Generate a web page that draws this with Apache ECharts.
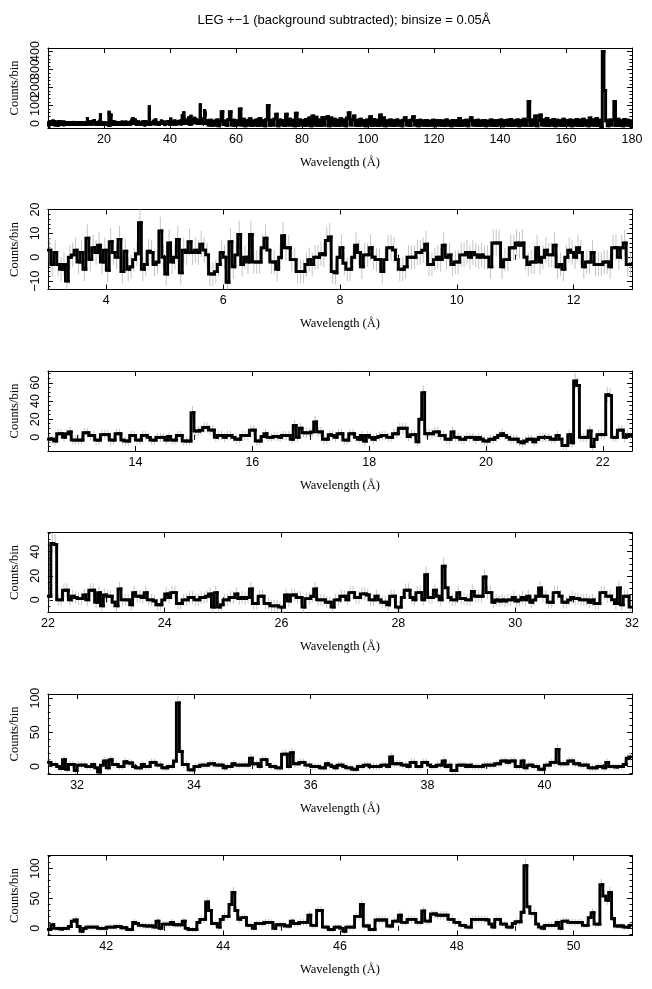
<!DOCTYPE html>
<html><head><meta charset="utf-8">
<script src="https://cdn.jsdelivr.net/npm/echarts@6/dist/echarts.min.js"></script>
<style>html,body{margin:0;padding:0;background:#fff}#c{width:652px;height:989px}</style>
</head><body><div id="c"></div>
<script>
// ---- DATA: counts per 0.05 A bin, bin left edges start at 3.00 A ----
const binSize = 0.05;
const firstBinStart = 3.0;
const counts_3_12p5 = [
3,-3,2,-3,-5,-3,-10,0,1,3,-2,2,-5,8,-1,4,2,5,-2,3,
-5.5,6.5,2,0,7.5,-6,2.5,-5,-4,-1,1.5,14.5,-5,-3,2.5,2,-3,-2,11,0,
-7,6,-2,0,7.5,-6.5,3,2,6.5,2,3,2,5.5,3,1,-7,-7,-6,-3,2,
0,-10.5,6.5,-4,1,9.5,-3,0,-2,9.5,-2,-2,-2,4,8,3,-2,-2,-5,0,
9,4,4,-1,-1,-6,-6,-6,-3,-1,-3,0,0,1.5,1,7,8.5,-6,-6.5,0,
4,-2.5,-5,-5,0,5,2,-4,1,1,4,0,-1,-1,-6,-1,4,4,3,-1,
-5,-5,-4,0,0,0,2,2,3,5.5,-3,-3,-1,0,-1,5,0,1,-3,-2,
-2,1,1,2,0,2,1,0,1,0,0,-4,6,6,6,-4,-1,-1,4,4,
6,5,6,0,-3,-2,-2,4,-2,0,3,1,1,5,-4,-3,-5,0,3,2,
0,4,2,-4,-2,-2,2,-3,-3,-3];
const counts_12p5_22 = [
-2,-2,-4,4,4,0,4,6,-3,-3,-3,-3,5,5,2,2,-3,-3,3,3,
3,-3,-3,4,4,-3,-4,-4,2,2,-3,-3,2,2,0,-3,-3,0,0,0,
-3,1,-3,-3,2,2,-4,-4,-4,27,7,7,8,11,11,8,8,0,2,2,
0,2,2,0,-2,-2,2,2,2,8,8,-4,-4,1,4,0,0,1,1,0,
2,2,2,-2,13,0,10,5,5,5,6,17,6,6,-2,-2,3,2,0,4,
4,-3,-3,4,4,0,-2,2,-4,2,0,-2,0,1,2,2,0,0,4,4,
10,10,10,1,3,3,-5,20,49,4,4,4,6,6,2,2,-2,-2,6,0,
0,-2,-2,0,0,0,-2,0,-2,-4,-4,-2,-2,0,2,4,2,0,-2,-2,
-2,-5,-6,-4,-2,-2,-5,-2,0,0,0,0,-2,-2,2,-2,-9,-9,3,-6,
62,57,0,0,0,7,-10,-2,3,3];
const counts_22_31p5 = [
3,47,46,0,0,8,8,0,3,2,1,1,4,0,8,8,-2,6,-5,4,
3,3,-2,-5,9,0,0,0,-4,6,3,3,2,6,0,0,-1,-4,-4,0,
5,2,6,6,-3,-3,0,0,2,2,0,0,2,2,3,5,-6,6,-6,-4,
0,0,2,2,5,1,2,1,2,9,-3,-3,3,3,-3,-3,-5,-5,-5,-6,
-6,4,-1,4,4,2,2,-6,1,1,3,9,0,0,0,-2,-2,-6,0,0,
3,3,0,6,6,2,2,5,5,4,0,0,3,0,-2,-2,-4,3,3,-6,
-6,2,8,8,2,0,6,6,0,21,2,2,8,3,0,28,10,2,0,0,
6,1,1,0,0,7,3,3,3,19,6,6,-2,0,-1,0,-1,0,0,2,
-1,0,2,0,3,-2,0,3,10,3,3,-2,-2,6,6,3,-2,-2,0,2,
1,1,0,0,0,-2,0,-3,-3,6];
const counts_31p5_41 = [
6,3,3,0,-3,10,-4,3,3,-6,2,2,2,0,0,3,-2,-8,2,8,
-2,10,3,3,0,0,7,5,5,0,-2,-2,3,0,0,6,6,2,2,-2,
-2,0,0,8,93,22,3,3,-5,-5,0,0,2,2,2,4,4,2,2,2,
-2,0,0,4,2,2,2,2,2,12,4,4,0,10,10,3,0,0,-2,-2,
18,18,0,20,4,4,6,6,2,2,0,0,0,-2,-2,4,2,0,-2,2,
2,0,-2,-2,-4,-4,0,0,2,2,0,0,0,0,2,2,0,14,4,4,
4,2,2,0,6,6,0,0,6,6,2,0,0,2,2,8,0,2,-6,-6,
2,2,2,0,2,0,0,0,0,2,2,2,2,4,4,8,8,6,8,8,
0,0,8,-2,2,2,0,0,-4,-4,2,2,6,6,25,4,4,4,8,8,
4,4,2,2,2,-2,-2,-2,0,0];
const counts_41_51 = [
-2,6,0,0,-1,0,0,3,12,14,3,-5,0,2,2,2,2,0,0,0,
2,2,2,3,3,1,1,-2,-2,10,8,5,5,4,4,4,2,12,0,7,
7,7,10,6,6,6,12,0,-2,-2,-2,10,15,15,44,30,8,8,2,15,
20,20,40,60,30,15,18,18,5,5,0,8,8,8,10,10,10,0,6,6,
6,4,4,12,8,8,10,10,10,22,5,5,30,30,2,2,-2,-2,2,2,
0,-5,2,2,2,20,20,40,4,4,-2,-2,14,14,14,14,4,4,12,12,
22,10,10,15,15,15,10,10,29,12,12,24,24,22,22,22,22,15,15,10,
10,5,5,2,2,15,15,15,15,15,14,7,2,15,15,7,7,2,2,8,
11,11,27,105,36,25,25,7,2,0,5,5,5,5,10,0,12,12,10,10,
10,10,10,5,5,18,26,7,7,73,54,47,60,16,4,4,4,2,2,5];
const overviewStep = 0.5;
const overviewStart = 51.0;
const overviewCounts = [
15,-9,18,-10,12,-8,20,-12,16,66,-6,14,-10,22,66,-8,18,-11,15,-7,
81,-9,24,-12,17,-8,26,-10,14,-9,19,-11,28,-8,16,-12,22,100,-10,18,
-9,25,51,-12,20,-7,16,-11,51,-9,23,-8,18,-12,57,-10,20,-9,16,-11,
22,-8,30,-12,42,-9,35,-10,19,-11,33,-8,28,38,-12,30,-9,24,-10,18,
-11,26,-8,20,-12,30,60,-9,22,42,-10,18,-11,24,-8,16,-12,20,-9,38,
-10,22,-8,18,-11,47,-9,30,-12,16,-8,20,-10,15,-11,19,-9,14,-12,18,
32,-8,16,-11,20,38,-9,15,-12,18,-8,14,-10,17,-11,13,-9,18,-12,15,
-8,16,-10,14,-11,19,-9,13,-12,17,-8,15,-10,28,-11,14,-9,18,-12,16,
32,-8,15,-10,18,-11,14,-9,17,-12,13,-8,19,-10,15,-11,16,-9,20,-12,
15,-8,18,-10,22,-11,16,-9,20,-12,17,-8,24,-10,18,122,-11,20,-9,42,
-12,18,47,-8,20,-10,28,-11,16,-9,22,-12,18,-8,15,-10,24,-11,17,-9,
20,-12,16,-8,22,-10,18,-11,24,-9,15,-12,30,-8,20,-10,26,-11,18,-25,
400,183,14,-12,20,-9,18,122,-11,24,-10,16,-12,22,-9,18,-11,15];
const backgroundCounts = 25; // for Poisson error bars

// ---- axes / ticks ----
const xRanges = [[3,180],[3,13],[12.5,22.5],[22,32],[31.5,41.5],[41,51]];
const yRanges = [[-25,420],[-13.5,20],[-15,73],[-10.5,56],[-11,106],[-12,122]];
const xMajor = [
  [20,40,60,80,100,120,140,160,180],
  [4,6,8,10,12],[14,16,18,20,22],[22,24,26,28,30,32],[32,34,36,38,40],[42,44,46,48,50]];
const xMinor = [
  [10,30,50,70,90,110,130,150,170],
  [5,7,9,11],[13,15,17,19,21],[23,25,27,29,31],[33,35,37,39,41],[43,45,47,49]];
const yMajor = [[0,100,200,300,400],[-10,0,10,20],[0,20,40,60],[0,20,40],[0,50,100],[0,50,100]];
const yMinor = [
  [-20,20,40,60,80,120,140,160,180,220,240,260,280,320,340,360,380],
  [-12,-8,-6,-4,-2,2,4,6,8,12,14,16,18],
  [-10,-5,5,10,15,25,30,35,45,50,55,65,70],
  [-10,-5,5,10,15,25,30,35,45,50,55],
  [-10,10,20,30,40,60,70,80,90],
  [-10,10,20,30,40,60,70,80,90,110,120]];
const titleText = 'LEG +\u22121 (background subtracted); binsize = 0.05\u00c5';
const xName = 'Wavelength (\u00c5)';
const yName = 'Counts/bin';

const allCounts = [].concat(counts_3_12p5, counts_12p5_22, counts_22_31p5, counts_31p5_41, counts_41_51);
const binLeft = i => Math.round((firstBinStart + binSize*i)*100)/100;

const tops = [48, 209.5, 371, 532.5, 694, 855.5];
const H = 80, L = 46, W = 586;
const black = '#000';
const sans = 'Liberation Sans, Arial, Helvetica, sans-serif';
const serif = 'Liberation Serif, Times New Roman, serif';
const fmt = v => String(v).replace('-', '\u2212');

const grid = [], xAxis = [], yAxis = [], series = [];
const yLabelStyle = {show: true, rotate: 90, margin: 6, color: black, fontFamily: sans, fontSize: 12.5,
  formatter: fmt, hideOverlap: false, showMaxLabel: true, showMinLabel: true};
xRanges.forEach((r, k) => {
  grid.push({left: L, top: tops[k], width: W, height: H, containLabel: false});
  const [xmin, xmax] = r, [ymin, ymax] = yRanges[k];
  const lineS = {show: true, onZero: false, lineStyle: {color: black, width: 1}};
  const base = {type: 'value', gridIndex: k, min: xmin, max: xmax, splitLine: {show: false}};
  xAxis.push(Object.assign({}, base, {position: 'bottom', axisLine: lineS,
    axisTick: {show: true, inside: true, length: 5, customValues: xMajor[k], lineStyle: {color: black}},
    axisLabel: {show: true, customValues: xMajor[k], margin: 5, color: black, fontFamily: sans, fontSize: 12.5, formatter: fmt},
    name: xName, nameLocation: 'middle', nameGap: 28, nameTextStyle: {color: black, fontFamily: serif, fontSize: 12.5}}));
  xAxis.push(Object.assign({}, base, {position: 'top', axisLine: lineS,
    axisTick: {show: true, inside: true, length: 5, customValues: xMajor[k], lineStyle: {color: black}},
    axisLabel: {show: false}}));
  xAxis.push(Object.assign({}, base, {position: 'bottom', axisLine: {show: false},
    axisTick: {show: true, inside: true, length: 2.5, customValues: xMinor[k], lineStyle: {color: black}},
    axisLabel: {show: false}}));
  xAxis.push(Object.assign({}, base, {position: 'top', axisLine: {show: false},
    axisTick: {show: true, inside: true, length: 2.5, customValues: xMinor[k], lineStyle: {color: black}},
    axisLabel: {show: false}}));
  const ybase = {type: 'value', gridIndex: k, min: ymin, max: ymax, splitLine: {show: false}};
  // labels split over two axes so that crowded (overlapping) labels are all kept, as in the original
  const labA = yMajor[k].filter((_, i) => i % 2 === 0);
  const labB = yMajor[k].filter((_, i) => i % 2 === 1);
  yAxis.push(Object.assign({}, ybase, {position: 'left', axisLine: lineS,
    axisTick: {show: true, inside: true, length: 5, customValues: yMajor[k], lineStyle: {color: black}},
    axisLabel: Object.assign({customValues: labA}, yLabelStyle),
    name: yName, nameLocation: 'middle', nameGap: 24, nameTextStyle: {color: black, fontFamily: serif, fontSize: 12.5}}));
  yAxis.push(Object.assign({}, ybase, {position: 'right', axisLine: lineS,
    axisTick: {show: true, inside: true, length: 5, customValues: yMajor[k], lineStyle: {color: black}},
    axisLabel: {show: false}}));
  yAxis.push(Object.assign({}, ybase, {position: 'left', axisLine: {show: false},
    axisTick: {show: true, inside: true, length: 2.5, customValues: yMinor[k], lineStyle: {color: black}},
    axisLabel: Object.assign({}, yLabelStyle, {customValues: labB, show: labB.length > 0})}));
  yAxis.push(Object.assign({}, ybase, {position: 'right', axisLine: {show: false},
    axisTick: {show: true, inside: true, length: 2.5, customValues: yMinor[k], lineStyle: {color: black}},
    axisLabel: {show: false}}));

  // build histogram bins: [left, right, previous value, value]
  const bins = [], err = [];
  let prev = null;
  allCounts.forEach((v, i) => {
    const x0 = binLeft(i);
    if (x0 >= xmin - 1e-9 && x0 < xmax - 1e-9) {
      bins.push([x0, Math.min(binLeft(i + 1), xmax), prev === null ? v : prev, v]);
      prev = v;
      const e = Math.sqrt(Math.max(v, 0) + backgroundCounts);
      err.push([x0 + binSize/2, v - e, v + e]);
    }
  });
  if (k === 0) {
    overviewCounts.forEach((v, j) => {
      const x0 = Math.round((overviewStart + overviewStep*j)*100)/100;
      bins.push([x0, Math.min(x0 + overviewStep, xmax), prev === null ? v : prev, v]);
      prev = v;
    });
  }

  if (k > 0) {
    series.push({type: 'custom', xAxisIndex: 4*k, yAxisIndex: 4*k, clip: true, z: 1,
      encode: {x: 0, y: [1, 2]}, data: err, silent: true,
      renderItem: (params, api) => {
        const p1 = api.coord([api.value(0), api.value(1)]);
        const p2 = api.coord([api.value(0), api.value(2)]);
        return {type: 'line', shape: {x1: p1[0], y1: p1[1], x2: p2[0], y2: p2[1]},
          style: {stroke: '#c4c4c4', lineWidth: 1}};
      }});
  }
  const lw = k === 0 ? 3 : 2.9;
  series.push({type: 'custom', xAxisIndex: 4*k, yAxisIndex: 4*k, clip: true, z: 3, silent: true,
    encode: {x: [0, 1], y: [2, 3]}, data: bins,
    renderItem: (params, api) => {
      const a = api.coord([api.value(0), api.value(2)]);
      const b = api.coord([api.value(0), api.value(3)]);
      const c = api.coord([api.value(1), api.value(3)]);
      return {type: 'polyline', shape: {points: [a, b, c]},
        style: {stroke: black, fill: null, lineWidth: lw, lineJoin: 'miter', lineCap: 'square'}};
    }});
});

const chart = echarts.init(document.getElementById('c'), null, {renderer: 'canvas'});
chart.setOption({
  animation: false,
  backgroundColor: '#fff',
  title: {text: titleText, left: L + W/2, top: 9, textAlign: 'center',
    textStyle: {fontFamily: sans, fontSize: 13, fontWeight: 'normal', color: black}},
  grid, xAxis, yAxis, series
});
</script></body></html>
